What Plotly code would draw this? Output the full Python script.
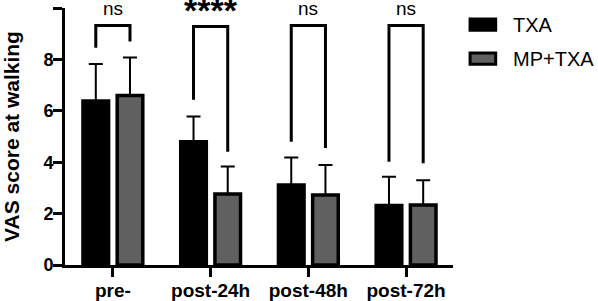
import plotly.graph_objects as go

categories = ["pre-", "post-24h", "post-48h", "post-72h"]
series_names = ["TXA", "MP+TXA"]
txa_mean = [6.38, 4.80, 3.11, 2.32]
txa_sd = [1.44, 0.98, 1.07, 1.11]
mp_mean = [6.60, 2.76, 2.72, 2.33]
mp_sd = [1.47, 1.07, 1.17, 0.97]
sig_labels = ["ns", "****", "ns", "ns"]
bracket_top = [9.32, 9.28, 9.32, 9.32]
bracket_left_bottom = [8.45, 6.43, 4.80, 4.02]
bracket_right_bottom = [8.70, 4.41, 4.55, 3.96]
y_ticks = [0, 2, 4, 6, 8, 10]

FONT = "Liberation Sans, Arial, Helvetica, sans-serif"
GRAY = "#606060"
HALF = 0.175
BW = 0.262

xs = list(range(len(categories)))
fig = go.Figure()

for name, mean, sd, color, sign in [
    (series_names[0], txa_mean, txa_sd, "black", -1),
    (series_names[1], mp_mean, mp_sd, GRAY, 1),
]:
    fig.add_trace(go.Bar(
        x=xs, y=mean, name=name, showlegend=False,
        width=BW, offset=sign * HALF - BW / 2,
        marker=dict(color=color, line=dict(color="black", width=3.5)),
        error_y=dict(type="data", symmetric=False, array=sd,
                     arrayminus=[0] * len(sd), color="black",
                     thickness=2, width=7),
    ))

# significance brackets
bx, by = [], []
for i in xs:
    bx += [i - HALF, i - HALF, i + HALF, i + HALF, None]
    by += [bracket_left_bottom[i], bracket_top[i], bracket_top[i],
           bracket_right_bottom[i], None]
fig.add_trace(go.Scatter(x=bx, y=by, mode="lines", showlegend=False,
                         line=dict(color="black", width=3),
                         hoverinfo="skip", cliponaxis=False))

annotations = []
for i, lab in enumerate(sig_labels):
    if lab.startswith("*"):
        annotations.append(dict(x=i, y=10, xref="x", yref="y", text=lab,
                                showarrow=False, yanchor="middle", yshift=-2,
                                font=dict(family=FONT, size=34, color="black",
                                          weight="bold")))
    else:
        annotations.append(dict(x=i, y=10, xref="x", yref="y", text=lab,
                                showarrow=False, yanchor="middle", yshift=0,
                                font=dict(family=FONT, size=19, color="black")))

# custom legend
shapes = []
legend_colors = ["black", GRAY]
for k, (nm, col) in enumerate(zip(series_names, legend_colors)):
    yc = 0.935 - k * 0.1323
    shapes.append(dict(type="rect", xref="paper", yref="paper",
                       x0=1.044, x1=1.110, y0=yc - 0.022, y1=yc + 0.022,
                       fillcolor=col, line=dict(color="black", width=3)))
    annotations.append(dict(x=1.15, y=yc, xref="paper", yref="paper",
                            text=nm, showarrow=False, xanchor="left",
                            yanchor="middle",
                            font=dict(family=FONT, size=20, color="black")))

fig.update_layout(
    width=598, height=301,
    margin=dict(l=65, r=145, t=8, b=36, autoexpand=False),
    paper_bgcolor="white", plot_bgcolor="white",
    barmode="overlay",
    annotations=annotations, shapes=shapes,
    font=dict(family=FONT, color="black"),
    xaxis=dict(range=[-0.49, 3.48], tickvals=xs, ticktext=categories,
               automargin=False, ticklabelstandoff=-3,
               showline=True, linecolor="black", linewidth=3,
               ticks="outside", ticklen=9, tickwidth=2.5, tickcolor="black",
               showgrid=False, zeroline=False,
               tickfont=dict(family=FONT, size=19, color="black", weight="bold")),
    yaxis=dict(range=[0, 10], tickvals=y_ticks, automargin=False,
               ticklabelstandoff=-4,
               showline=True, linecolor="black", linewidth=3,
               ticks="outside", ticklen=9, tickwidth=2.5, tickcolor="black",
               showgrid=False, zeroline=False,
               title=dict(text="VAS score at walking", standoff=20,
                          font=dict(family=FONT, size=21, color="black",
                                    weight="bold")),
               tickfont=dict(family=FONT, size=18, color="black", weight="bold")),
)

fig.write_html(
    "out.html",
    config={"displayModeBar": False},
    post_script="document.body.style.margin='0';document.body.style.overflow='hidden';",
)
